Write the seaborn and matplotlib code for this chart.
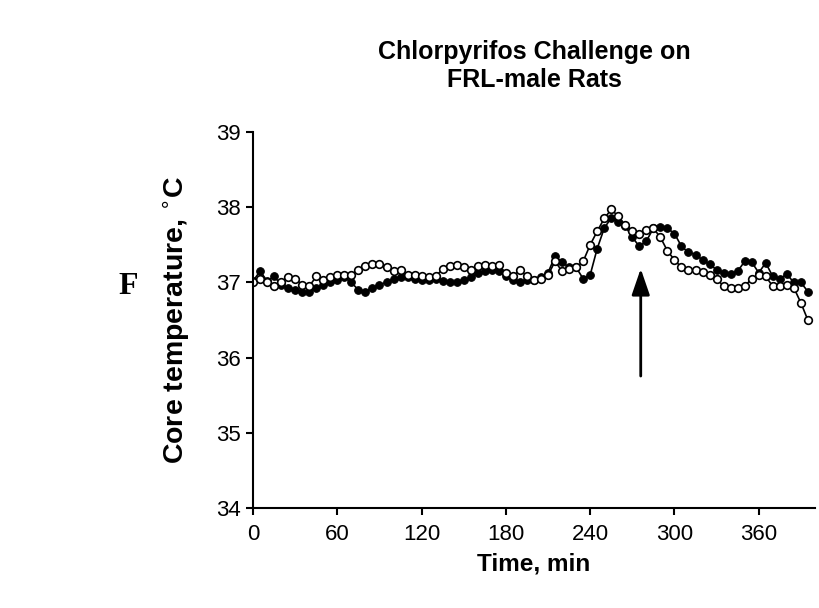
import numpy as np
import pandas as pd
import matplotlib
matplotlib.use('Agg')
import matplotlib.pyplot as plt
import seaborn as sns

# time in minutes, one reading every 5 min
time_min = list(range(0, 400, 5))
# filled circles
temp_filled = [37.02, 37.15, 37.02, 37.08, 36.97, 36.93, 36.90, 36.88, 36.88, 36.92,
               36.97, 37.00, 37.03, 37.07, 37.00, 36.90, 36.88, 36.93, 36.97, 37.00,
               37.05, 37.07, 37.07, 37.05, 37.03, 37.03, 37.05, 37.02, 37.00, 37.00,
               37.03, 37.07, 37.12, 37.15, 37.17, 37.15, 37.08, 37.03, 37.00, 37.03,
               37.03, 37.07, 37.13, 37.35, 37.27, 37.20, 37.20, 37.05, 37.10, 37.45,
               37.72, 37.86, 37.80, 37.75, 37.60, 37.48, 37.55, 37.72, 37.74, 37.72,
               37.65, 37.48, 37.40, 37.37, 37.30, 37.24, 37.17, 37.13, 37.11, 37.15,
               37.28, 37.27, 37.13, 37.26, 37.08, 37.05, 37.11, 37.00, 37.00, 36.88]
# open circles
temp_open = [37.00, 37.05, 37.00, 36.95, 37.00, 37.07, 37.05, 36.97, 36.95, 37.08,
             37.03, 37.07, 37.10, 37.10, 37.10, 37.17, 37.22, 37.25, 37.25, 37.20,
             37.15, 37.17, 37.10, 37.10, 37.08, 37.07, 37.08, 37.18, 37.22, 37.23,
             37.20, 37.17, 37.22, 37.23, 37.22, 37.23, 37.12, 37.08, 37.17, 37.08,
             37.03, 37.05, 37.10, 37.28, 37.15, 37.18, 37.20, 37.28, 37.50, 37.68,
             37.85, 37.97, 37.88, 37.76, 37.68, 37.65, 37.70, 37.72, 37.60, 37.42,
             37.30, 37.20, 37.17, 37.17, 37.14, 37.10, 37.05, 36.95, 36.92, 36.92,
             36.95, 37.05, 37.10, 37.08, 36.95, 36.95, 36.97, 36.93, 36.73, 36.50]
arrow_time = 276
arrow_tip = 37.22
arrow_tail = 35.72

df = pd.DataFrame({'time': time_min, 'filled': temp_filled, 'open': temp_open})

sns.set_style('ticks')
plt.rcParams['font.family'] = ['Liberation Sans', 'DejaVu Sans']
plt.rcParams['text.color'] = 'black'
plt.rcParams['axes.labelcolor'] = 'black'

fig = plt.figure(figsize=(8.19, 6.08), dpi=100)
ax = fig.add_axes([0.309, 0.164, 0.686, 0.619])

sns.lineplot(data=df, x='time', y='filled', ax=ax, color='black', linewidth=1.2,
             marker='o', markersize=5.5, markerfacecolor='black', markeredgecolor='black')
sns.lineplot(data=df, x='time', y='open', ax=ax, color='black', linewidth=1.2,
             marker='o', markersize=5.5, markerfacecolor='white', markeredgecolor='black',
             markeredgewidth=1.2)

ax.annotate('', xy=(arrow_time, arrow_tip), xytext=(arrow_time, arrow_tail),
            arrowprops=dict(arrowstyle='-|>,head_length=1.6,head_width=0.55',
                            color='black', lw=2))

ax.set_xlim(0, 400)
ax.set_ylim(34, 39)
ax.set_xticks([0, 60, 120, 180, 240, 300, 360])
ax.set_yticks([34, 35, 36, 37, 38, 39])
sns.despine(ax=ax)
for sp in ax.spines.values():
    sp.set_linewidth(1.5)
    sp.set_color('black')
ax.tick_params(axis='both', which='major', labelsize=16, length=5, width=1.5,
               direction='out', colors='black')
ax.tick_params(axis='x', pad=6)
ax.tick_params(axis='y', pad=4)

ax.set_xlabel('Time, min', fontsize=17.5, fontweight='bold', labelpad=6)
ax.set_ylabel('Core temperature, $^{\\circ}$C', fontsize=20.5, fontweight='bold')
ax.yaxis.set_label_coords(-0.108, 0.5)
ax.set_title('Chlorpyrifos Challenge on\nFRL-male Rats', fontsize=18,
             fontweight='bold', pad=32, linespacing=1.25)

fig.text(0.156, 0.528, 'F', fontsize=23, fontweight='bold',
         family=['Liberation Serif', 'DejaVu Serif'], ha='center', va='center')

plt.savefig('out.png', dpi=100)
